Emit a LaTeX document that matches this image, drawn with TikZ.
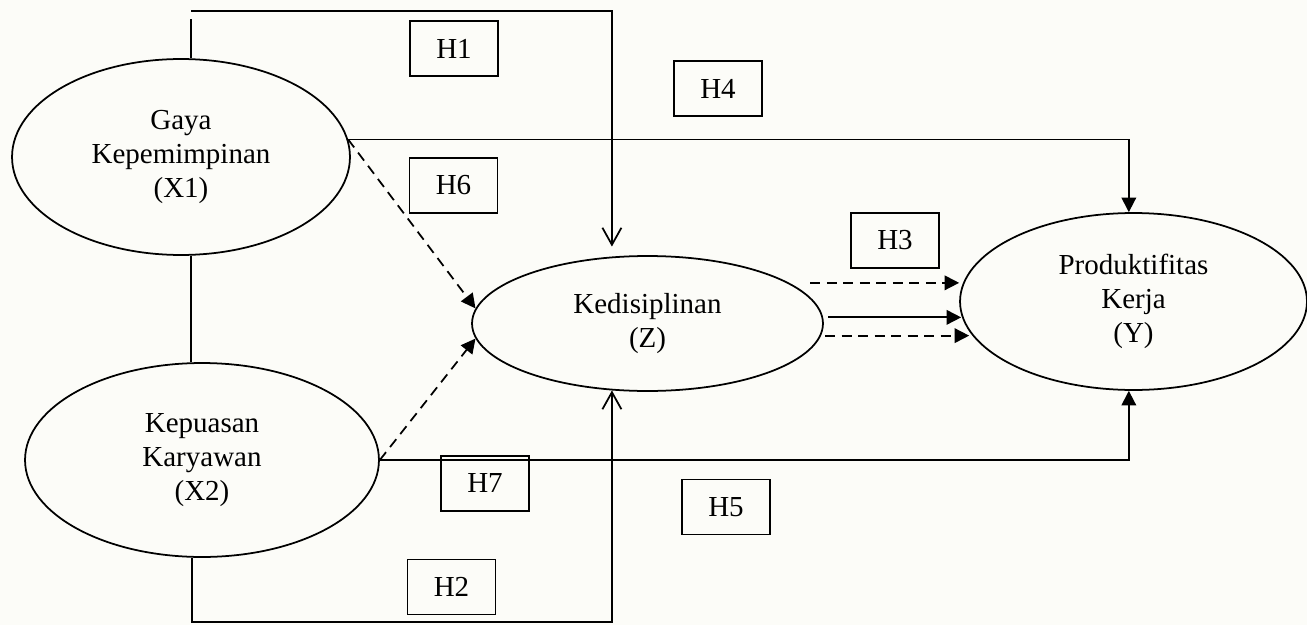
\documentclass[tikz,border=0pt]{standalone}
\usepackage{fontspec}
\setmainfont{Liberation Serif}
\usetikzlibrary{shapes.geometric,arrows.meta}
\definecolor{bgc}{RGB}{252,252,248}
\tikzset{
  base/.style={line width=1pt},
  var/.style={base,draw,ellipse,inner sep=0pt,align=center,font=\fontsize{16.5}{19.5}\selectfont},
  hbox/.style={base,draw,minimum width=1.76cm,minimum height=1.1cm,inner sep=0pt,font=\fontsize{16.5}{19.5}\selectfont},
  tri/.style={base,-{Triangle[length=0.29cm,width=0.29cm]}},
  barb/.style={base,-{Straight Barb[length=0.34cm,width=0.38cm]}},
  dsh/.style={dash pattern=on 0.2cm off 0.13cm}
}
\begin{document}
\begin{tikzpicture}[x=0.02cm,y=-0.02cm]
\fill[bgc] (0,0) rectangle (1307,625);
\useasboundingbox (0,0) rectangle (1307,625);

\node[var,minimum width=6.76cm,minimum height=3.92cm] (x1) at (181,157) {Gaya\\Kepemimpinan\\(X1)};
\node[var,minimum width=7.08cm,minimum height=3.88cm] (x2) at (202,460) {Kepuasan\\Karyawan\\(X2)};
\node[var,minimum width=7.02cm,minimum height=2.7cm] (z) at (647.5,323.5) {Kedisiplinan\\(Z)};
\node[var,minimum width=6.94cm,minimum height=3.54cm] (y) at (1133.5,301.5) {Produktifitas\\Kerja\\(Y)};

\node[hbox] (h1) at (454,48.5) {H1};
\node[hbox] (h4) at (718,88.5) {H4};
\node[hbox] (h6) at (453.5,185.5) {H6};
\node[hbox] (h3) at (895,240.5) {H3};
\node[hbox] (h7) at (485,483.5) {H7};
\node[hbox] (h2) at (451.5,587) {H2};
\node[hbox] (h5) at (726,507) {H5};

\coordinate (stubtop) at (191,19);
\coordinate (topl) at (191,11);
\coordinate (botl) at (191,622);

% left spine
\draw[base] (x1.84) -- (x1.84 |- stubtop);
\draw[base] (x1.-84) -- (x1.-84 |- x2.north);
% H1
\draw[barb,shorten >=0.2cm] (topl) -| (z.118.2);
% H2
\draw[barb] (x2.-96) |- (botl -| z.-118.2) -- (z.-118.2);
% H4
\draw[tri] (x1.6) -| (y.93);
% H5
\draw[tri] (x2.east) -| (y.-93);
% H6, H7
\draw[tri,dsh] (x1.6) -- (z.175);
\draw[tri,dsh] (x2.east) -- (z.185);
% H3
\draw[tri,dsh,shorten <=0.42cm] (z.16) -- (z.16 -| y.west);
\draw[tri,shorten <=0.1cm,shorten >=-0.04cm] (z.2.5) -- (z.2.5 -| y.west);
\draw[tri,dsh,shorten <=0.08cm,shorten >=-0.2cm] (z.-4.8) -- (z.-4.8 -| y.west);
\end{tikzpicture}
\end{document}
